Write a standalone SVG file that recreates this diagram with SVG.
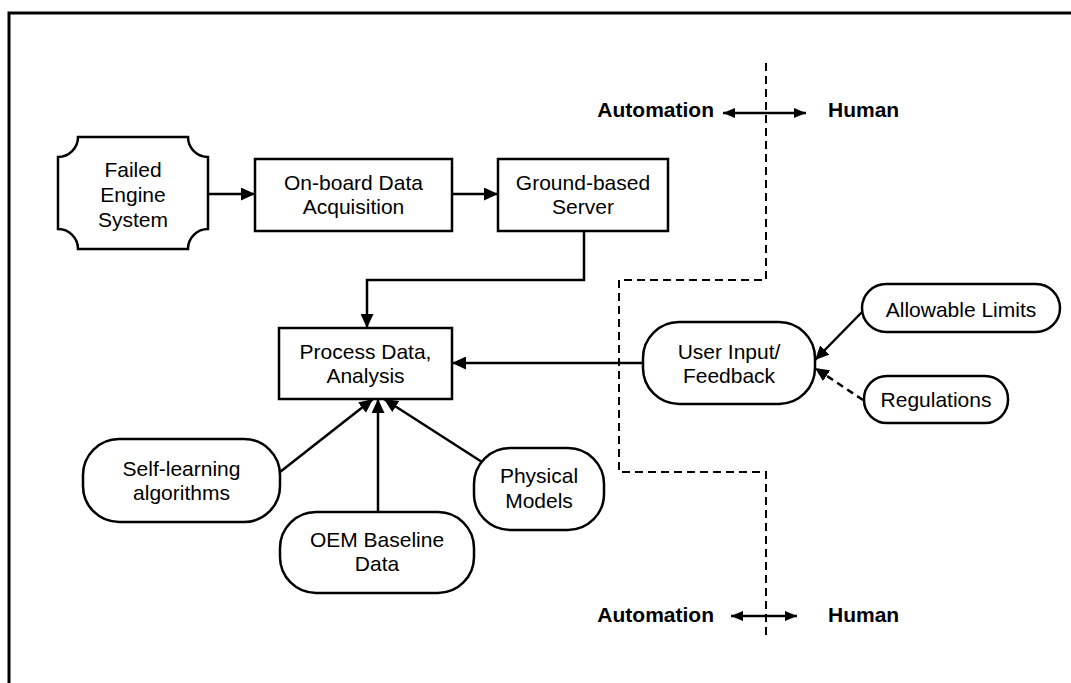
<svg xmlns="http://www.w3.org/2000/svg" width="1071" height="683" viewBox="0 0 1071 683">
  <style>
    .node { fill: #fff; stroke: #000; stroke-width: 2.5; }
    .lbl { font-family: "Liberation Sans", Arial, sans-serif; font-size: 21px; fill: #000; text-anchor: middle; }
    .side { font-family: "Liberation Sans", Arial, sans-serif; font-size: 21px; font-weight: bold; fill: #000; }
    .edge { fill: none; stroke: #000; stroke-width: 2.5; }
    .dash { stroke-dasharray: 7 5; }
    .divider { fill: none; stroke: #000; stroke-width: 2; stroke-dasharray: 8 5; }
  </style>
  <defs>
    <marker id="arrow" markerUnits="userSpaceOnUse" markerWidth="14" markerHeight="13" refX="14" refY="6.5" orient="auto">
      <path d="M0,0 L14,6.5 L0,13 Z" fill="#000"/>
    </marker>
    <marker id="arrowSmall" markerUnits="userSpaceOnUse" markerWidth="12" markerHeight="10" refX="12" refY="5" orient="auto-start-reverse">
      <path d="M0,0 L12,5 L0,10 Z" fill="#000"/>
    </marker>
  </defs>

  <rect width="1071" height="683" fill="#fff"/>
  <!-- frame: top and left edges only -->
  <path d="M9,683 V13 H1071" fill="none" stroke="#000" stroke-width="3"/>

  <!-- automation / human boundary -->
  <g id="boundary">
    <path class="divider" d="M766,63 V280 H619 V472 H766 V640"/>
    <text class="side" x="714" y="117" text-anchor="end">Automation</text>
    <text class="side" x="828" y="117">Human</text>
    <path class="edge" d="M723,113 H806" marker-start="url(#arrowSmall)" marker-end="url(#arrowSmall)"/>
    <text class="side" x="714" y="622" text-anchor="end">Automation</text>
    <text class="side" x="828" y="622">Human</text>
    <path class="edge" d="M731,616 H797" marker-start="url(#arrowSmall)" marker-end="url(#arrowSmall)"/>
  </g>

  <g id="connectors">
    <path class="edge" d="M208,194 H255" marker-end="url(#arrow)"/>
    <path class="edge" d="M452,194 H498" marker-end="url(#arrow)"/>
    <path class="edge" d="M584,231 V280 H367 V328" marker-end="url(#arrow)"/>
    <path class="edge" d="M643,363 H452" marker-end="url(#arrow)"/>
    <path class="edge" d="M280,472 L373,399" marker-end="url(#arrow)"/>
    <path class="edge" d="M378,512 V399" marker-end="url(#arrow)"/>
    <path class="edge" d="M482,462 L384,399" marker-end="url(#arrow)"/>
    <path class="edge" d="M863,311 L815,360" marker-end="url(#arrow)"/>
    <path class="edge dash" d="M863,400 L815,368" marker-end="url(#arrow)"/>
  </g>

  <g id="failed-engine">
    <path class="node" d="M78,137 H188 A20,20 0 0 0 208,157 V229 A20,20 0 0 0 188,249 H78 A20,20 0 0 0 58,229 V157 A20,20 0 0 0 78,137 Z"/>
    <text class="lbl" x="133" y="177">Failed</text>
    <text class="lbl" x="133" y="202">Engine</text>
    <text class="lbl" x="133" y="227">System</text>
  </g>

  <g id="onboard">
    <rect class="node" x="255" y="159" width="197" height="72"/>
    <text class="lbl" x="353.5" y="190">On-board Data</text>
    <text class="lbl" x="353.5" y="214">Acquisition</text>
  </g>

  <g id="ground-server">
    <rect class="node" x="498" y="159" width="170" height="72"/>
    <text class="lbl" x="583" y="190">Ground-based</text>
    <text class="lbl" x="583" y="214">Server</text>
  </g>

  <g id="process">
    <rect class="node" x="279" y="328" width="173" height="71"/>
    <text class="lbl" x="365.5" y="359">Process Data,</text>
    <text class="lbl" x="365.5" y="383">Analysis</text>
  </g>

  <g id="user-input">
    <rect class="node" x="643" y="322" width="172" height="82" rx="36" ry="36"/>
    <text class="lbl" x="729" y="359">User Input/</text>
    <text class="lbl" x="729" y="383">Feedback</text>
  </g>

  <g id="allowable-limits">
    <rect class="node" x="862" y="284" width="198" height="48" rx="24" ry="24"/>
    <text class="lbl" x="961" y="317">Allowable Limits</text>
  </g>

  <g id="regulations">
    <rect class="node" x="864" y="376" width="144" height="47" rx="23" ry="23"/>
    <text class="lbl" x="936" y="407">Regulations</text>
  </g>

  <g id="self-learning">
    <rect class="node" x="83" y="439" width="197" height="83" rx="36" ry="36"/>
    <text class="lbl" x="181.5" y="476">Self-learning</text>
    <text class="lbl" x="181.5" y="500">algorithms</text>
  </g>

  <g id="oem-baseline">
    <rect class="node" x="280" y="512" width="194" height="81" rx="36" ry="36"/>
    <text class="lbl" x="377" y="547">OEM Baseline</text>
    <text class="lbl" x="377" y="571">Data</text>
  </g>

  <g id="physical-models">
    <rect class="node" x="474" y="448" width="130" height="82" rx="36" ry="36"/>
    <text class="lbl" x="539" y="483">Physical</text>
    <text class="lbl" x="539" y="508">Models</text>
  </g>
</svg>
